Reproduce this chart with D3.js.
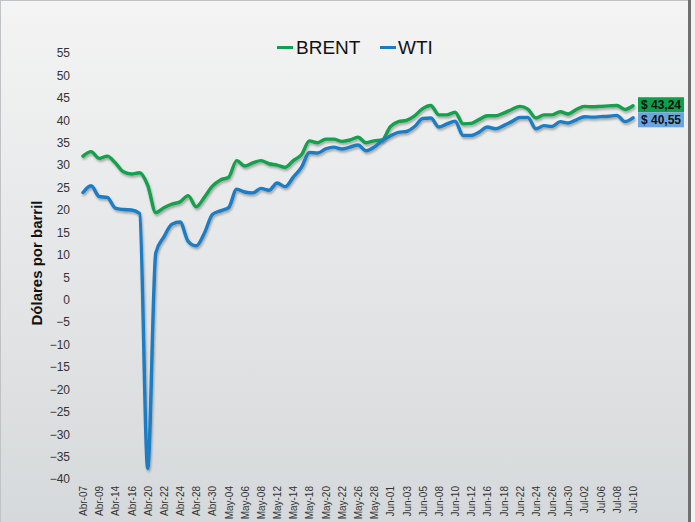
<!DOCTYPE html>
<html>
<head>
<meta charset="utf-8">
<script src="https://cdn.jsdelivr.net/npm/d3@7"></script>
<style>
  html, body { margin: 0; padding: 0; background: #ffffff; }
  svg { display: block; }
  text { font-family: "Liberation Sans", Arial, sans-serif; }
</style>
</head>
<body>
<svg id="chart" width="695" height="522"></svg>
<script>
// ---- data ----
const dates = [
  "Abr-07","Abr-08","Abr-09","Abr-13","Abr-14","Abr-15","Abr-16","Abr-17","Abr-20","Abr-21",
  "Abr-22","Abr-23","Abr-24","Abr-27","Abr-28","Abr-29","Abr-30","May-01","May-04","May-05",
  "May-06","May-07","May-08","May-11","May-12","May-13","May-14","May-15","May-18","May-19",
  "May-20","May-21","May-22","May-25","May-26","May-27","May-28","May-29","Jun-01","Jun-02",
  "Jun-03","Jun-04","Jun-05","Jun-07","Jun-08","Jun-09","Jun-10","Jun-11","Jun-12","Jun-15",
  "Jun-16","Jun-17","Jun-18","Jun-19","Jun-22","Jun-23","Jun-24","Jun-25","Jun-26","Jun-29",
  "Jun-30","Jul-01","Jul-02","Jul-03","Jul-06","Jul-07","Jul-08","Jul-09","Jul-10"
];
const tickLabels = [
  "Abr-07","Abr-09","Abr-14","Abr-16","Abr-20","Abr-22","Abr-24","Abr-28","Abr-30",
  "May-04","May-06","May-08","May-12","May-14","May-18","May-20","May-22","May-26","May-28",
  "Jun-01","Jun-03","Jun-05","Jun-08","Jun-10","Jun-12","Jun-16","Jun-18","Jun-22","Jun-24",
  "Jun-26","Jun-30","Jul-02","Jul-06","Jul-08","Jul-10"
];
const brent = [
  32.0, 33.0, 31.5, 32.0, 30.5, 28.5, 28.0, 28.3, 25.5, 19.4,
  20.5, 21.3, 21.8, 23.2, 20.7, 22.8, 25.3, 26.7, 27.3, 31.0,
  29.8, 30.5, 31.0, 30.3, 30.0, 29.5, 31.0, 32.3, 35.4, 35.0,
  35.8, 35.8, 35.3, 35.6, 36.2, 35.0, 35.4, 35.6, 38.6, 39.7,
  40.0, 41.0, 42.6, 43.3, 41.2, 41.2, 41.8, 39.2, 39.3, 40.2,
  41.0, 41.0, 41.6, 42.4, 43.1, 42.5, 40.5, 41.2, 41.2, 41.9,
  41.4, 42.4, 43.1, 43.0, 43.1, 43.2, 43.3, 42.4, 43.24
];
const wti = [
  23.9, 25.4, 23.0, 22.8, 20.4, 20.1, 20.0, 19.2, -37.6, 10.4,
  14.0, 16.8, 17.3, 13.0, 12.0, 14.8, 19.0, 19.8, 20.5, 24.6,
  24.0, 23.8, 24.8, 24.4, 26.0, 25.2, 27.3, 29.5, 32.8, 32.7,
  33.6, 34.0, 33.6, 34.0, 34.5, 33.2, 34.0, 35.5, 36.5, 37.3,
  37.5, 38.6, 40.4, 40.5, 38.5, 39.2, 39.8, 36.6, 36.6, 37.4,
  38.5, 38.1, 38.8, 39.7, 40.6, 40.6, 38.1, 38.8, 38.6, 39.7,
  39.4, 40.1, 40.8, 40.7, 40.8, 40.9, 41.1, 39.7, 40.55
];
const yTicks = [55,50,45,40,35,30,25,20,15,10,5,0,-5,-10,-15,-20,-25,-30,-35,-40];
const seriesNames = ["BRENT", "WTI"];
const seriesColors = ["#13a04c", "#1a7cc4"];
const lastLabels = ["$ 43,24", "$ 40,55"];
const labelColors = ["#0f9f4a", "#6aa6de"];

// ---- drawing ----
const svg = d3.select("#chart");
const W = 695, H = 522;

const defs = svg.append("defs");
const grad = defs.append("linearGradient").attr("id", "bg")
  .attr("x1", 0).attr("y1", 0).attr("x2", 0).attr("y2", 1);
grad.append("stop").attr("offset", "0%").attr("stop-color", "#f4f4f4");
grad.append("stop").attr("offset", "100%").attr("stop-color", "#d6d9db");
const sh = defs.append("filter").attr("id", "shadow")
  .attr("x", "-10%").attr("y", "-10%").attr("width", "120%").attr("height", "130%");
sh.append("feDropShadow").attr("dx", 1).attr("dy", 2).attr("stdDeviation", 1.3)
  .attr("flood-color", "#000").attr("flood-opacity", 0.3);

svg.append("rect").attr("x", 0).attr("y", 0).attr("width", W).attr("height", H).attr("fill", "url(#bg)");
svg.append("rect").attr("x", 0.5).attr("y", 0.5).attr("width", 688).attr("height", H)
  .attr("fill", "none").attr("stroke", "#bfc3c6").attr("stroke-width", 1);
svg.append("rect").attr("x", 688).attr("y", 0).attr("width", 3).attr("height", H).attr("fill", "#6d6f71");
svg.append("rect").attr("x", 691).attr("y", 0).attr("width", 4).attr("height", H).attr("fill", "#f2f2f2");

const x = d3.scalePoint().domain(dates).range([83, 633]);
const y = d3.scaleLinear().domain([-40, 55]).range([479, 53]);

// y axis
const yAxis = svg.append("g").attr("transform", "translate(70,0)")
  .call(d3.axisLeft(y).tickValues(yTicks).tickSize(0).tickPadding(0).tickFormat(d3.format("d")));
yAxis.select(".domain").remove();
yAxis.selectAll("text").attr("font-size", 12).attr("fill", "#333")
  .attr("font-family", "'Liberation Sans', Arial, sans-serif");

// x axis
const xAxis = svg.append("g").attr("transform", "translate(0,486)")
  .call(d3.axisBottom(x).tickValues(tickLabels).tickSize(0).tickPadding(0));
xAxis.select(".domain").remove();
xAxis.selectAll("text")
  .attr("font-size", 10).attr("fill", "#333")
  .attr("font-family", "'Liberation Sans', Arial, sans-serif")
  .attr("text-anchor", "end")
  .attr("dy", "0.35em")
  .attr("transform", "rotate(-90)")
  .attr("x", 0).attr("y", 0);

// y title
svg.append("text")
  .attr("transform", "translate(42,263) rotate(-90)")
  .attr("text-anchor", "middle")
  .attr("font-size", 15).attr("font-weight", "bold").attr("fill", "#111")
  .text("Dólares por barril");

// lines
const line = d3.line()
  .x((d, i) => x(dates[i]))
  .y(d => y(d))
  .curve(d3.curveMonotoneX);

[brent, wti].forEach((s, k) => {
  svg.append("path").datum(s)
    .attr("d", line)
    .attr("fill", "none")
    .attr("stroke", seriesColors[k])
    .attr("stroke-width", 3.4)
    .attr("stroke-linejoin", "round")
    .attr("stroke-linecap", "round")
    .attr("filter", "url(#shadow)");
});

// legend
const legendPos = [[277, 296], [380, 398]];
seriesNames.forEach((n, k) => {
  svg.append("line")
    .attr("x1", legendPos[k][0]).attr("x2", legendPos[k][0] + 16)
    .attr("y1", 47.5).attr("y2", 47.5)
    .attr("stroke", seriesColors[k]).attr("stroke-width", 3);
  svg.append("text")
    .attr("x", legendPos[k][1]).attr("y", 54)
    .attr("font-size", 19).attr("fill", "#111")
    .text(n);
});

// end value labels
[brent, wti].forEach((s, k) => {
  const last = s[s.length - 1];
  const cy = k === 0 ? y(last) - 1 : y(last) + 2;
  svg.append("rect")
    .attr("x", 638).attr("y", cy - 7.5).attr("width", 46).attr("height", 15)
    .attr("fill", labelColors[k]);
  svg.append("text")
    .attr("x", 661).attr("y", cy + 4.3)
    .attr("text-anchor", "middle")
    .attr("font-size", 12).attr("font-weight", "bold").attr("fill", "#111")
    .text(lastLabels[k]);
});
</script>
</body>
</html>
